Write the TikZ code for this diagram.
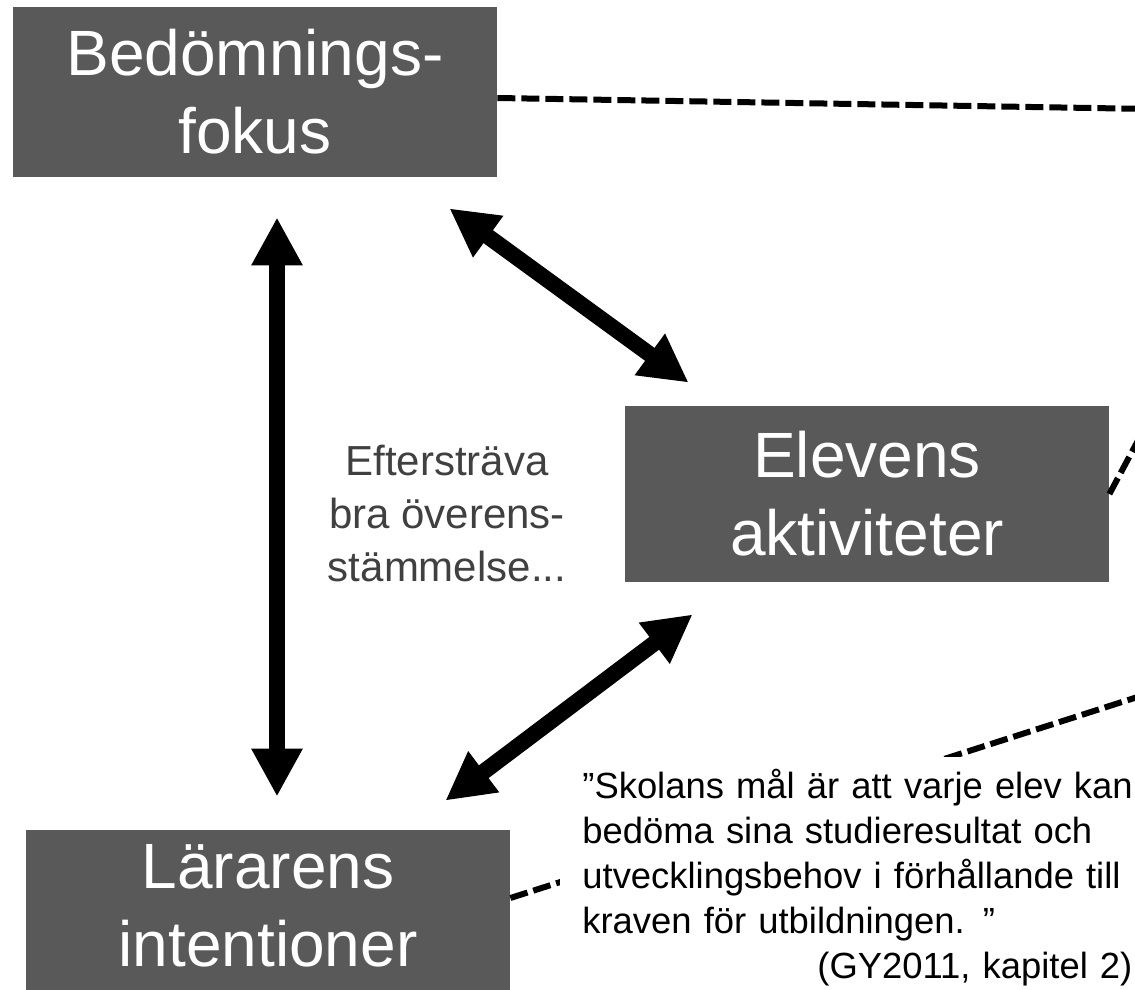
\documentclass[tikz,border=0pt]{standalone}
\usepackage{fontspec}
\setmainfont{Liberation Sans}
\usetikzlibrary{arrows.meta}
\definecolor{boxgrey}{HTML}{595959}
\definecolor{notegrey}{HTML}{404040}
\tikzset{
  box/.style={fill=boxgrey,text=white,minimum width=242pt,minimum height=85pt,inner sep=0pt,align=center,font=\fontsize{32pt}{39pt}\selectfont},
  twoway/.style={{Triangle[length=24pt,width=24pt]}-{Triangle[length=24pt,width=24pt]},line width=8pt},
  link/.style={line width=3pt,dash pattern=on 9pt off 3pt},
  citation/.style={fill=white,anchor=north west,inner xsep=11pt,inner ysep=6pt,text width=290pt,align=left,font=\fontsize{18.2pt}{22.5pt}\selectfont},
  remark/.style={text=notegrey,align=center,font=\fontsize{21pt}{26.5pt}\selectfont},
}
\begin{document}
\begin{tikzpicture}[x=0.5pt,y=-0.5pt]
  \useasboundingbox (0,0) rectangle (1135,990);
  \clip (0,0) rectangle (1135,990);
  \node[box] (bed) at (255,92) {Bedömnings-\\fokus};
  \node[box,minimum height=88pt] (ele) at (867,494) {Elevens\\aktiviteter};
  \node[box,minimum height=86pt] (lar) at (268,916) {Lärarens\\intentioner\rule[-11pt]{0pt}{11pt}};
  \node[remark] (strive) at (447,514) {Eftersträva\\bra överens-\\stämmelse...};

  % lines leaving the picture on the right
  \coordinate (outtop) at (1150,109);
  \coordinate (outmid) at (1150,418);
  \coordinate (outlow) at (1150,693);
  \draw[link] ([yshift=-3pt]bed.east) -- (outtop);
  \draw[link] (ele.east) -- (outmid);
  \draw[link] ([yshift=9pt]lar.east) -- (outlow);

  \draw[twoway] ([shift={(22,40)}]bed.south) -- ([shift={(9,-33)}]lar.north);
  \draw[twoway] ([shift={(-48,31)}]bed.south east) -- ([shift={(64,-23)}]ele.north west);
  \draw[twoway] ([shift={(68,32)}]ele.south west) -- ([shift={(-65,-29)}]lar.north east);

  \node[citation] (goal) at (560,757) {”Skolans mål är att varje elev kan\\bedöma sina studieresultat och\\utvecklingsbehov i förhållande till\\kraven för utbildningen. ”\\\hspace*{\fill}(GY2011, kapitel 2)\rule{15pt}{0pt}};
\end{tikzpicture}
\end{document}
